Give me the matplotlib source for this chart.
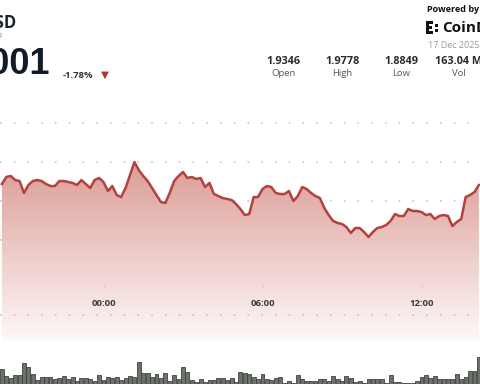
import numpy as np
import matplotlib
matplotlib.use("Agg")
import matplotlib.pyplot as plt
from matplotlib.patches import Rectangle
import matplotlib.transforms as mtransforms

# 10-minute samples, minutes relative to 00:00
minutes = np.arange(-230, 851, 10)

price = [1.9468, 1.9558, 1.9571, 1.9519, 1.9506, 1.9353, 1.9455, 1.9506, 1.9519, 1.9506,
         1.9468, 1.9442, 1.9442, 1.9506, 1.9506, 1.9494, 1.9481, 1.9455, 1.9519, 1.9468,
         1.9417, 1.9519, 1.9545, 1.9494, 1.9378, 1.9442, 1.9327, 1.9301, 1.9417, 1.9583,
         1.9750, 1.9647, 1.9571, 1.9506, 1.9417, 1.9327, 1.9237, 1.9224, 1.9353, 1.9506,
         1.9571, 1.9622, 1.9545, 1.9558, 1.9532, 1.9545, 1.9429, 1.9481, 1.9340, 1.9314,
         1.9288, 1.9276, 1.9263, 1.9212, 1.9147, 1.9070, 1.9083, 1.9301, 1.9301, 1.9404,
         1.9442, 1.9429, 1.9353, 1.9340, 1.9340, 1.9378, 1.9250, 1.9314, 1.9429, 1.9404,
         1.9353, 1.9314, 1.9288, 1.9160, 1.9070, 1.8994, 1.8968, 1.8955, 1.8917, 1.8840,
         1.8904, 1.8904, 1.8853, 1.8788, 1.8853, 1.8904, 1.8917, 1.8942, 1.8994, 1.9083,
         1.9058, 1.9058, 1.9147, 1.9122, 1.9122, 1.9109, 1.9070, 1.9083, 1.9019, 1.9058,
         1.9070, 1.9058, 1.8929, 1.8981, 1.9019, 1.9301, 1.9327, 1.9365, 1.9455]

volume = [1.7, 1.0, 0.8, 1.1, 1.1, 2.3, 1.9, 1.2, 0.6, 0.9, 0.9, 0.9, 0.7, 0.8, 1.0, 0.7,
          0.9, 0.5, 0.8, 0.8, 0.7, 0.5, 1.1, 0.6, 0.9, 0.8, 0.9, 0.6, 0.8, 1.0, 0.9, 2.4,
          1.3, 1.3, 0.9, 1.2, 0.8, 1.3, 0.5, 1.1, 0.7, 1.9, 1.4, 0.6, 0.4, 0.7, 0.4, 0.6,
          0.6, 0.8, 0.8, 0.6, 0.8, 0.4,
          1.4, 1.3, 1.2, 0.9, 0.7, 1.2, 0.7, 0.6, 0.8, 0.9, 0.3, 0.5, 0.3, 1.1, 0.7, 0.5,
          0.5, 0.5, 0.7, 0.7, 0.5, 1.0, 0.7, 0.5, 1.0, 0.8, 0.4, 0.5, 0.3, 0.7, 0.7, 0.7,
          0.7, 0.3, 1.1, 0.4, 0.4, 0.3, 0.3, 0.3, 0.5, 0.9, 1.1, 0.8, 1.0, 0.7, 0.7, 0.7,
          0.7, 1.2, 0.7, 0.9, 1.5, 1.5, 2.9]

grid_levels = [2.025, 1.975, 1.925, 1.875]
tick_minutes = [0, 360, 720]
tick_labels = ["00:00", "06:00", "12:00"]

stat_values = ["1.9346", "1.9778", "1.8849", "163.04 M"]
stat_names = ["Open", "High", "Low", "Vol"]

W, H = 480, 384
fig = plt.figure(figsize=(4.8, 3.84), dpi=100)
fig.patch.set_facecolor("white")

def fx(px):
    return px / W

def fy(py):
    return 1 - py / H

YMIN, YMAX = 1.7468, 2.0545

# price panel
ax = fig.add_axes([0, fy(340), 1, 240 / H])
ax.set_xlim(-234.3, 852.5)
ax.set_ylim(YMIN, YMAX)
ax.axis("off")

# vertical gradient fill under the line
vs = np.linspace(YMIN, YMAX, 300)
t = np.clip((2.0 - vs) / (2.0 - YMIN), 0, 1)
top = np.array([216, 146, 140]) / 255
bot = np.array([254, 248, 247]) / 255
col = top[None, :] * (1 - t[:, None]) + bot[None, :] * t[:, None]
img = np.repeat(col[:, None, :], 4, axis=1)
im = ax.imshow(img, extent=(-234.3, 852.5, YMIN, YMAX), origin="lower",
               aspect="auto", zorder=1, interpolation="bilinear")
poly = ax.fill_between(minutes, price, YMIN, color="none", lw=0)
im.set_clip_path(poly.get_paths()[0], transform=ax.transData)

for g in grid_levels:
    ax.axhline(g, color="#bdbdbd", lw=1.1, ls=(0, (1, 8)), zorder=2)
ax.axhline(1.7789, color="#bdbdbd", lw=1.1, ls=(0, (1, 8)), zorder=2)

ax.plot(minutes, price, color="#b3423c", lw=1.8, zorder=3, solid_joinstyle="round")

trans = mtransforms.blended_transform_factory(ax.transData, ax.transAxes)
for m, lab in zip(tick_minutes, tick_labels):
    ax.text(m, 0.2167, "·", transform=trans, ha="center", va="center",
            fontsize=6, color="#777777")
    ax.text(m, 0.154, lab, transform=trans, ha="center", va="center",
            fontsize=6.8, fontweight="bold", color="#3a3a3a", family="Open Sans")

# volume panel
axv = fig.add_axes([0, 0, 1, 44 / H])
axv.set_xlim(-234.3, 852.5)
axv.set_ylim(0.2, 4.6)
axv.axis("off")
axv.bar(minutes, volume, width=8.8, color="#6c726b", edgecolor="#3f443d", lw=0.6)

# header
fig.text(fx(16.5), fy(23), "XRP/USD", ha="right", va="center", fontsize=12,
         fontweight="bold", color="#1b2230", family="Open Sans")
fig.text(fx(3.5), fy(38), "XRP", ha="right", va="center", fontsize=6.5,
         color="#888888", family="Open Sans")
fig.text(fx(50), fy(65), "1.9001", ha="right", va="center", fontsize=26,
         fontweight="bold", color="#131b2b",
         family=["Liberation Sans Narrow", "Liberation Sans", "DejaVu Sans"])
fig.text(fx(63), fy(75), "-1.78%", ha="left", va="center", fontsize=6.8,
         fontweight="bold", color="#333333", family="Open Sans")
fig.text(fx(104.5), fy(75), "▼", ha="center", va="center", fontsize=7.5,
         color="#b0362c", family="DejaVu Sans")

for i, (val, name) in enumerate(zip(stat_values, stat_names)):
    cx = [283, 342, 401, 459][i]
    fig.text(fx(cx), fy(61), val, ha="center", va="center", fontsize=7.8,
             fontweight="bold", color="#2a2a2a", family="Open Sans")
    fig.text(fx(cx), fy(74), name, ha="center", va="center", fontsize=6.8,
             color="#555555", family="Open Sans")

fig.text(fx(427), fy(9), "Powered by", ha="left", va="center", fontsize=6.5,
         fontweight="bold", color="#111111", family="Open Sans")
fig.text(fx(442), fy(27.5), "CoinDesk", ha="left", va="center", fontsize=11,
         fontweight="bold", color="#111111", family="Open Sans")
fig.text(fx(428), fy(45), "17 Dec 2025", ha="left", va="center", fontsize=6.5,
         color="#9a9a9a", family="Open Sans")

# logo blocks
for (x0, y0, w, h) in [(426, 21, 3, 13), (426, 21, 7, 3), (426, 26, 6, 3),
                       (426, 31, 7, 3), (435, 24, 3, 3), (435, 29, 3, 3)]:
    fig.add_artist(Rectangle((fx(x0), fy(y0 + h)), w / W, h / H,
                             transform=fig.transFigure, color="#111111", lw=0))

fig.savefig("out.png", dpi=100)
